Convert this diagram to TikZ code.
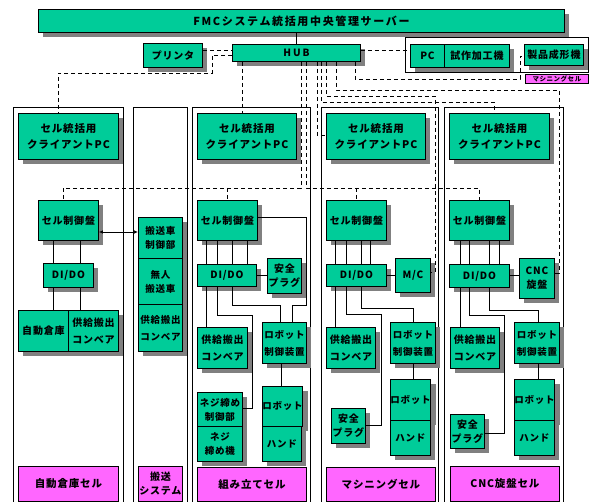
\documentclass[tikz,border=0pt]{standalone}
\usepackage{fontspec}
\setmainfont{Noto Sans CJK JP}
\newfontfamily\jp{Noto Sans CJK JP Black}[LetterSpace=8]
\usetikzlibrary{shadows,arrows.meta}
\definecolor{cellgreen}{HTML}{00CC99}
\definecolor{pinklab}{HTML}{FF66FF}
\tikzset{
  box/.style={draw=black,line width=0.9pt,fill=cellgreen,inner sep=0pt,align=center,
    font=\jp\fontsize{10}{14}\selectfont,
    drop shadow={shadow xshift=5pt,shadow yshift=-5pt,fill=black!50,opacity=1}},
  lab/.style={draw=black,line width=0.9pt,fill=pinklab,inner sep=0pt,align=center,
    font=\jp\fontsize{10.5}{14}\selectfont},
  cellframe/.style={draw=black,line width=0.8pt},
  wire/.style={draw=black,line width=0.7pt},
  lan/.style={draw=black,line width=0.7pt,dash pattern=on 4pt off 3pt},
  biarrow/.style={{Latex[length=4pt,width=3.5pt]}-{Latex[length=4pt,width=3.5pt]}},
  narrow/.style={font=\jp\fontsize{9.5}{14}\selectfont},
  twoline/.style={font=\jp\fontsize{10}{17}\selectfont},
  pcstyle/.style={font=\jp\fontsize{10.5}{16}\selectfont}
}
\newcommand\bx[7][]{\node[box,minimum width={(#5-#3)*1pt},minimum height={(#6-#4)*1pt},anchor=north west,#1] (#2) at (#3,#4) {#7};}
\newcommand\lb[7][]{\node[lab,minimum width={(#5-#3)*1pt},minimum height={(#6-#4)*1pt},anchor=north west,#1] (#2) at (#3,#4) {#7};}
\begin{document}
\begin{tikzpicture}[x=1pt,y=-1pt]
\useasboundingbox (0,0) rectangle (590,502);
\fill[white] (0,0) rectangle (590,502);
% cell frames
\foreach \a/\b in {13/123,133/187,192/310,321/438,444/563}
  \draw[cellframe] (\a,510) -- (\a,107) -- (\b,107) -- (\b,510);
\draw[cellframe] (405,37) rectangle (588,72);
% top
\bx[font=\jp\fontsize{11}{13}\selectfont\addfontfeature{LetterSpace=15}]{server}{38}{9}{564}{32}{FMCシステム統括用中央管理サーバー}
\bx{printer}{143}{43}{202}{67}{プリンタ}
\bx[font=\jp\fontsize{10}{12}\selectfont\addfontfeature{LetterSpace=20}]{hub}{232}{44}{360}{61}{HUB}
\bx{pc}{410}{44}{444}{67}{PC}
\bx{shisaku}{444}{44}{509}{67}{試作加工機}
\bx{seihin}{524}{44}{583}{65}{製品成形機}
\lb[font=\jp\fontsize{6.5}{7}\selectfont]{maslab}{525}{74}{588}{83}{マシニングセル}
% cell 1
\bx[pcstyle]{pc1}{18}{113}{118}{159}{セル統括用\\クライアントPC}
\bx{ctrl1}{38}{200}{98}{240}{セル制御盤}
\bx{dido1}{43}{263}{93}{287}{DI/DO}
\bx{jido}{18}{310}{68}{351}{自動倉庫}
\bx[twoline]{conv1}{68}{310}{118}{351}{供給搬出\\コンベア}
\lb{lab1}{18}{466}{118}{501}{自動倉庫セル}
% cell 2
\bx[narrow]{agvc}{138}{217}{182}{258}{搬送車\\制御部}
\bx[narrow]{agv}{138}{258}{182}{304}{無人\\搬送車}
\bx[narrow,font=\jp\fontsize{9.5}{17}\selectfont]{conv2}{138}{304}{182}{351}{供給搬出\\コンベア}
\lb[font=\jp\fontsize{10}{14}\selectfont]{lab2}{138}{466}{182}{501}{搬送\\システム}
% cell 3
\bx[pcstyle]{pc3}{197}{113}{296}{159}{セル統括用\\クライアントPC}
\bx{ctrl3}{197}{200}{257}{240}{セル制御盤}
\bx{dido3}{197}{264}{256}{286}{DI/DO}
\bx{plug3}{267}{258}{301}{293}{安全\\プラグ}
\bx[twoline]{conv3}{197}{327}{247}{368}{供給搬出\\コンベア}
\bx[font=\jp\fontsize{9.5}{17}\selectfont]{rc3}{262}{322}{306}{363}{ロボット\\制御装置}
\bx[narrow]{nejic}{197}{392}{242}{426}{ネジ締め\\制御部}
\bx[narrow]{neji}{197}{426}{242}{461}{ネジ\\締め機}
\bx[narrow]{robot3}{262}{386}{301}{426}{ロボット}
\bx[narrow]{hand3}{262}{426}{301}{461}{ハンド}
\lb{lab3}{197}{467}{306}{501}{組み立てセル}
% cell 4
\bx[pcstyle]{pc4}{326}{113}{425}{159}{セル統括用\\クライアントPC}
\bx{ctrl4}{326}{200}{386}{240}{セル制御盤}
\bx{dido4}{326}{264}{386}{286}{DI/DO}
\bx{mc}{395}{258}{430}{292}{M/C}
\bx[twoline]{conv4}{326}{327}{375}{368}{供給搬出\\コンベア}
\bx{plug4}{331}{408}{365}{443}{安全\\プラグ}
\bx[font=\jp\fontsize{9.5}{17}\selectfont]{rc4}{390}{322}{435}{363}{ロボット\\制御装置}
\bx[narrow]{robot4}{390}{379}{430}{420}{ロボット}
\bx[narrow]{hand4}{390}{420}{430}{455}{ハンド}
\lb{lab4}{326}{467}{435}{501}{マシニングセル}
% cell 5
\bx[pcstyle]{pc5}{449}{113}{549}{159}{セル統括用\\クライアントPC}
\bx{ctrl5}{449}{200}{509}{240}{セル制御盤}
\bx{dido5}{449}{264}{509}{287}{DI/DO}
\bx{cnc}{519}{258}{554}{298}{CNC\\旋盤}
\bx[twoline]{conv5}{450}{327}{499}{368}{供給搬出\\コンベア}
\bx{plug5}{450}{414}{484}{448}{安全\\プラグ}
\bx[font=\jp\fontsize{9.5}{17}\selectfont]{rc5}{514}{322}{559}{363}{ロボット\\制御装置}
\bx[narrow]{robot5}{514}{379}{554}{420}{ロボット}
\bx[narrow]{hand5}{514}{420}{554}{455}{ハンド}
\lb{lab5}{450}{466}{559}{501}{CNC旋盤セル}
% solid connectors
\draw[wire] (server.south -| 296,0) -- (hub.north -| 296,0);
\draw[wire] (ctrl1.south -| 53,0) -- (dido1.north -| 53,0);
\draw[wire] (ctrl1.south -| 80,0) -- (dido1.north -| 80,0);
\draw[wire] (dido1.south -| 53,0) -- (jido.north -| 53,0);
\draw[wire] (dido1.south -| 80,0) -- (conv1.north -| 80,0);
\draw[wire,biarrow] (ctrl1.east |- 0,232) -- (agvc.west |- 0,232);
\foreach \x in {206,217,232,247} \draw[wire] (ctrl3.south -| \x,0) -- (dido3.north -| \x,0);
\draw[wire] (ctrl3.east |- 0,217) -- (306,217) -- (306,305) -- (292,305) -- (rc3.north -| 292,0);
\draw[wire] (dido3.east |- 0,275) -- (plug3.west |- 0,275);
\draw[wire] (dido3.south -| 206,0) -- (conv3.north -| 206,0);
\draw[wire] (dido3.south -| 217,0) -- (217,315) -- (252,315) -- (252,408) -- (nejic.east |- 0,408);
\draw[wire] (dido3.south -| 232,0) -- (232,305) -- (280,305) -- (rc3.north -| 280,0);
\draw[wire] (rc3.south -| 281,0) -- (robot3.north -| 281,0);
\foreach \x in {335,346,361,370} \draw[wire] (ctrl4.south -| \x,0) -- (dido4.north -| \x,0);
\draw[wire] (dido4.east |- 0,275) -- (mc.west |- 0,275);
\draw[wire] (dido4.south -| 335,0) -- (conv4.north -| 335,0);
\draw[wire] (dido4.south -| 346,0) -- (346,314) -- (381,314) -- (381,425) -- (plug4.east |- 0,425);
\draw[wire] (dido4.south -| 361,0) -- (361,308) -- (413,308) -- (rc4.north -| 413,0);
\draw[wire] (rc4.south -| 413,0) -- (robot4.north -| 413,0);
\foreach \x in {460,469,489,499} \draw[wire] (ctrl5.south -| \x,0) -- (dido5.north -| \x,0);
\draw[wire] (dido5.east |- 0,275) -- (cnc.west |- 0,275);
\draw[wire] (dido5.south -| 460,0) -- (conv5.north -| 460,0);
\draw[wire] (dido5.south -| 469,0) -- (469,315) -- (504,315) -- (504,433) -- (plug5.east |- 0,433);
\draw[wire] (dido5.south -| 489,0) -- (489,310) -- (538,310) -- (rc5.north -| 538,0);
\draw[wire] (rc5.south -| 538,0) -- (robot5.north -| 538,0);
% LAN (dashed)
\draw[lan] (printer.east |- 0,50) -- (hub.west |- 0,50);
\draw[lan] (hub.west |- 0,55) -- (212,55) -- (212,73) -- (58,73) -- (pc1.north -| 58,0);
\draw[lan] (hub.south -| 242,0) -- (pc3.north -| 242,0);
\draw[lan] (hub.south -| 301,0) -- (301,188) -- (63,188) -- (ctrl1.north -| 63,0);
\coordinate (br3) at (227,188);
\draw[lan] (br3) -- (ctrl3.north -| br3);
\draw[lan] (hub.south -| 306,0) -- (306,188) -- (479,188) -- (ctrl5.north -| 479,0);
\coordinate (br4) at (356,188);
\draw[lan] (br4) -- (ctrl4.north -| br4);
\draw[lan] (hub.south -| 317,0) -- (317,135) -- (pc4.west |- 0,135);
\draw[lan] (hub.south -| 321,0) -- (321,102) -- (494,102) -- (pc5.north -| 494,0);
\draw[lan] (hub.south -| 326,0) -- (326,96) -- (435,96) -- (435,272) -- (mc.east |- 0,272);
\draw[lan] (hub.south -| 336,0) -- (336,90) -- (559,90) -- (559,273) -- (cnc.east |- 0,273);
\draw[lan] (hub.south -| 355,0) -- (355,79) -- (520,79) -- (520,56) -- (seihin.west |- 0,56);
\draw[lan] (hub.east |- 0,50) -- (pc.west |- 0,50);
\end{tikzpicture}
\end{document}
